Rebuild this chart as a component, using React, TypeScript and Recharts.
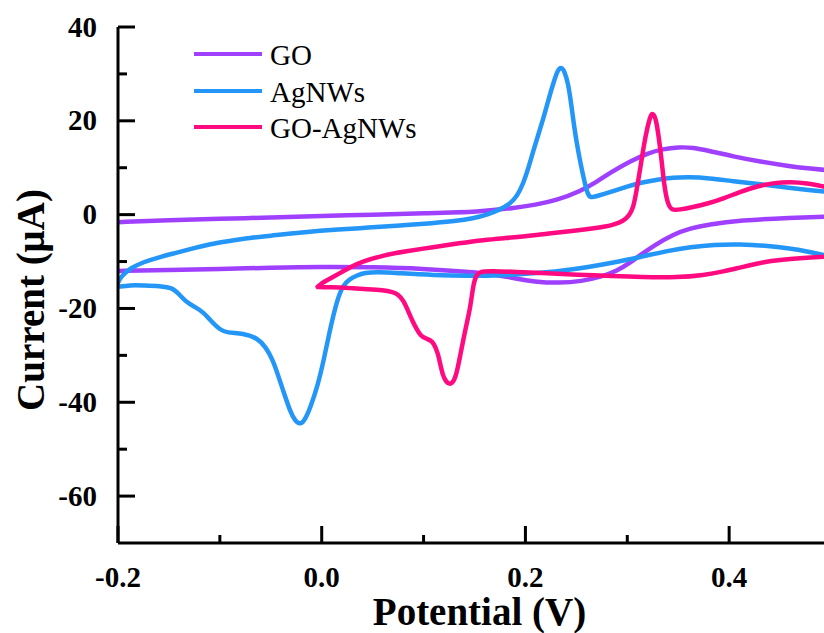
import { Legend, Line, LineChart, XAxis, YAxis } from 'recharts'

const FONT = "'Liberation Serif', 'Times New Roman', 'DejaVu Serif', serif"

// potential (V), current (µA) — forward sweep then reverse sweep.
// switching points are repeated so the smoothed curve turns sharply there
const goScan: [number, number][] = [
  [-0.2, -1.6], [-0.15, -1.2], [-0.1, -0.9], [-0.05, -0.6], [0.0, -0.3], [0.05, 0.0],
  [0.1, 0.3], [0.156, 0.6], [0.188, 1.4], [0.21, 2.1], [0.23, 3.0], [0.254, 5.0],
  [0.27, 7.0], [0.286, 9.3], [0.303, 11.4], [0.32, 13.1], [0.335, 14.0], [0.35, 14.4],
  [0.365, 14.3], [0.38, 13.6], [0.404, 12.4], [0.43, 11.3], [0.46, 10.3], [0.48, 9.8],
  [0.5, 9.4], [0.5, 9.4], [0.5, 9.4],
  [0.5, -0.4], [0.5, -0.4], [0.5, -0.4], [0.46, -0.7], [0.411, -1.2], [0.379, -2.1],
  [0.362, -2.9], [0.345, -4.2], [0.326, -6.6], [0.313, -8.6], [0.303, -10.2], [0.29, -12.0],
  [0.274, -13.3], [0.255, -14.2], [0.234, -14.6], [0.208, -14.3], [0.19, -13.6],
  [0.175, -12.9], [0.143, -12.2], [0.1, -11.5], [0.05, -11.2], [0.0, -11.1], [-0.05, -11.3],
  [-0.1, -11.6], [-0.15, -11.8], [-0.2, -12.0],
]

const agnwScan: [number, number][] = [
  [-0.2, -14.5], [-0.197, -13.2], [-0.188, -11.4], [-0.175, -10.1], [-0.16, -9.1],
  [-0.142, -8.1], [-0.125, -7.1], [-0.11, -6.3], [-0.09, -5.6], [-0.077, -5.1],
  [-0.05, -4.5], [-0.021, -3.8], [0.018, -3.1], [0.045, -2.8], [0.077, -2.3],
  [0.11, -1.8], [0.13, -1.4], [0.149, -0.8], [0.163, 0.0], [0.175, 1.1], [0.185, 2.3],
  [0.192, 4.0], [0.198, 6.7], [0.203, 10.0], [0.208, 13.8], [0.213, 17.3], [0.218, 20.8],
  [0.223, 24.8], [0.228, 28.5], [0.232, 30.9], [0.235, 31.5], [0.238, 30.8], [0.242, 28.0],
  [0.245, 23.5], [0.248, 18.5], [0.251, 14.5], [0.254, 11.0], [0.258, 7.0], [0.261, 4.4],
  [0.264, 3.6], [0.268, 3.8], [0.286, 5.0], [0.3, 6.0], [0.313, 6.8], [0.33, 7.5],
  [0.345, 7.9], [0.36, 8.0], [0.38, 7.8], [0.404, 7.1], [0.43, 6.5], [0.46, 5.7],
  [0.48, 5.2], [0.5, 4.8], [0.5, 4.8], [0.5, 4.8],
  [0.5, -8.9], [0.5, -8.9], [0.5, -8.9], [0.48, -8.0], [0.46, -7.2], [0.435, -6.6],
  [0.411, -6.3], [0.385, -6.4], [0.362, -6.9], [0.34, -7.7], [0.313, -9.0], [0.29, -10.1],
  [0.261, -11.2], [0.235, -12.0], [0.208, -12.5], [0.175, -13.0], [0.143, -13.1],
  [0.11, -12.9], [0.077, -12.5], [0.055, -12.2], [0.042, -12.4], [0.035, -12.9],
  [0.027, -13.8], [0.021, -15.0], [0.015, -18.2], [0.008, -24.6], [0.002, -31.0],
  [-0.004, -36.5], [-0.011, -41.0], [-0.016, -43.6], [-0.021, -44.8], [-0.026, -44.0],
  [-0.031, -42.0], [-0.038, -37.4], [-0.044, -33.5], [-0.048, -31.0], [-0.055, -28.2],
  [-0.063, -26.3], [-0.077, -25.3], [-0.093, -25.2], [-0.1, -24.5], [-0.107, -23.1],
  [-0.116, -20.8], [-0.125, -19.6], [-0.132, -18.8], [-0.14, -17.0], [-0.146, -15.6],
  [-0.159, -15.2], [-0.175, -15.1], [-0.188, -15.0], [-0.2, -15.4],
]

const goAgnwScan: [number, number][] = [
  [-0.004, -15.4], [-0.004, -15.4], [0.0, -14.6], [0.005, -14.0], [0.011, -13.3], [0.02, -12.2],
  [0.028, -11.2], [0.04, -10.0], [0.06, -8.7], [0.08, -7.9], [0.11, -6.9], [0.135, -6.1],
  [0.159, -5.4], [0.18, -5.0], [0.205, -4.5], [0.222, -4.0], [0.245, -3.5], [0.271, -2.8],
  [0.285, -2.3], [0.296, -1.4], [0.302, -0.2], [0.306, 1.5], [0.309, 5.0], [0.313, 10.2],
  [0.316, 14.5], [0.32, 18.9], [0.323, 21.2], [0.325, 21.7], [0.328, 20.6], [0.331, 16.5],
  [0.334, 11.0], [0.336, 6.7], [0.339, 2.8], [0.343, 0.8], [0.352, 1.1], [0.362, 1.5],
  [0.38, 2.4], [0.395, 3.5], [0.41, 4.8], [0.428, 6.1], [0.445, 6.8], [0.46, 7.0],
  [0.477, 6.7], [0.49, 6.1], [0.5, 5.7], [0.5, 5.7], [0.5, 5.7],
  [0.5, -8.9], [0.5, -8.9], [0.5, -8.9], [0.48, -9.1], [0.46, -9.4], [0.44, -9.9],
  [0.428, -10.4], [0.41, -11.3], [0.395, -12.1], [0.375, -12.9], [0.35, -13.4],
  [0.313, -13.3], [0.286, -13.1], [0.25, -12.8], [0.222, -12.5], [0.19, -12.2],
  [0.165, -12.0], [0.156, -12.1], [0.152, -12.8], [0.149, -14.6], [0.146, -19.7],
  [0.142, -23.5], [0.139, -26.7], [0.136, -30.0], [0.133, -33.3], [0.13, -35.5],
  [0.126, -36.3], [0.122, -35.6], [0.119, -34.4], [0.116, -31.5], [0.114, -29.5],
  [0.11, -27.4], [0.107, -26.8], [0.102, -26.4], [0.097, -25.8], [0.093, -24.3],
  [0.09, -23.1], [0.085, -20.6], [0.08, -18.2], [0.075, -17.0], [0.07, -16.5],
  [0.06, -16.1], [0.045, -15.9], [0.03, -15.7], [0.018, -15.5], [0.005, -15.5],
  [-0.004, -15.4],
]

const xTicks = [-0.2, -0.1, 0, 0.1, 0.2, 0.3, 0.4]
const topTicks = [-0.1, 0, 0.1, 0.2, 0.3, 0.4]
const yTicks = [-60, -50, -40, -30, -20, -10, 0, 10, 20, 30, 40]

const series = [
  { name: 'GO', color: '#A040FF', scan: goScan },
  { name: 'AgNWs', color: '#2396F8', scan: agnwScan },
  { name: 'GO-AgNWs', color: '#FF0A80', scan: goAgnwScan },
]

const toPoints = (scan: [number, number][]) => scan.map(([x, y]) => ({ x, y }))

const boldText = { fontFamily: FONT, fontWeight: 700 }

function BottomTick({ x, y, payload }: any) {
  const v = payload.value as number
  const major = Math.round(v * 10) % 2 === 0
  return (
    <g>
      <line x1={x} x2={x} y1={y} y2={y - (major ? 17 : 8)} stroke="#000" strokeWidth={3} />
      {major && (
        <text x={x} y={y + 44} textAnchor="middle" fontSize={29} fill="#000" style={boldText}>
          {v.toFixed(1)}
        </text>
      )}
    </g>
  )
}

function TopTick({ x, y }: any) {
  return <line x1={x} x2={x} y1={y} y2={y + 3} stroke="#000" strokeWidth={2} />
}

function LeftTick({ x, y, payload }: any) {
  const v = payload.value as number
  const major = v % 20 === 0
  return (
    <g>
      <line x1={x} x2={x + (major ? 17 : 9)} y1={y} y2={y} stroke="#000" strokeWidth={3} />
      {major && (
        <text x={x - 21} y={y + 9.5} textAnchor="end" fontSize={29} fill="#000" style={boldText}>
          {v}
        </text>
      )}
    </g>
  )
}

const xTitle = ({ viewBox }: any) => (
  <text
    x={viewBox.x + viewBox.width / 2 + 5}
    y={viewBox.y + 82}
    textAnchor="middle"
    fontSize={39}
    fill="#000"
    style={boldText}
  >
    Potential (V)
  </text>
)

const yTitle = ({ viewBox }: any) => {
  const cx = 44
  const cy = viewBox.y + viewBox.height / 2 + 15
  return (
    <text
      x={cx}
      y={cy}
      transform={`rotate(-90, ${cx}, ${cy})`}
      textAnchor="middle"
      fontSize={39}
      fill="#000"
      style={boldText}
    >
      Current (μA)
    </text>
  )
}

function LegendBox() {
  return (
    <div style={{ fontFamily: FONT, fontSize: 29, color: '#000' }}>
      {series.map((s) => (
        <div key={s.name} style={{ display: 'flex', alignItems: 'center', height: 36.5 }}>
          <span style={{ display: 'inline-block', width: 68, height: 4, background: s.color, marginRight: 8 }} />
          <span style={{ lineHeight: '36.5px', position: 'relative', top: 1 }}>{s.name}</span>
        </div>
      ))}
    </div>
  )
}

export default function App() {
  return (
    <div style={{ position: 'absolute', left: 0, top: 0, width: 824, height: 633, overflow: 'hidden', background: '#fff' }}>
      <LineChart width={840} height={633} margin={{ top: 27, right: 9, bottom: 0, left: 0 }}>
        <XAxis
          xAxisId="bottom"
          type="number"
          dataKey="x"
          domain={[-0.2, 0.5]}
          allowDataOverflow
          ticks={xTicks}
          interval={0}
          height={90}
          tickSize={0}
          tickMargin={0}
          tickLine={false}
          tick={<BottomTick />}
          axisLine={{ stroke: '#000', strokeWidth: 3 }}
          label={xTitle}
        />
        <XAxis
          xAxisId="top"
          orientation="top"
          type="number"
          dataKey="x"
          domain={[-0.2, 0.5]}
          allowDataOverflow
          ticks={topTicks}
          interval={0}
          height={0}
          tickSize={0}
          tickMargin={0}
          tickLine={false}
          tick={<TopTick />}
          axisLine={{ stroke: '#000', strokeWidth: 3 }}
        />
        <YAxis
          type="number"
          domain={[-70, 40]}
          allowDataOverflow
          ticks={yTicks}
          interval={0}
          width={118}
          tickSize={0}
          tickMargin={0}
          tickLine={false}
          tick={<LeftTick />}
          axisLine={{ stroke: '#000', strokeWidth: 3 }}
          label={yTitle}
        />
        <Legend
          layout="vertical"
          align="center"
          verticalAlign="middle"
          content={<LegendBox />}
          wrapperStyle={{ left: 194, top: 36, width: 300, height: 'auto' }}
        />
        {series.map((s) => (
          <Line
            key={s.name}
            xAxisId="bottom"
            data={toPoints(s.scan)}
            dataKey="y"
            name={s.name}
            type="basis"
            stroke={s.color}
            strokeWidth={4.5}
            strokeLinejoin="round"
            strokeLinecap="round"
            dot={false}
            activeDot={false}
            isAnimationActive={false}
          />
        ))}
      </LineChart>
    </div>
  )
}
